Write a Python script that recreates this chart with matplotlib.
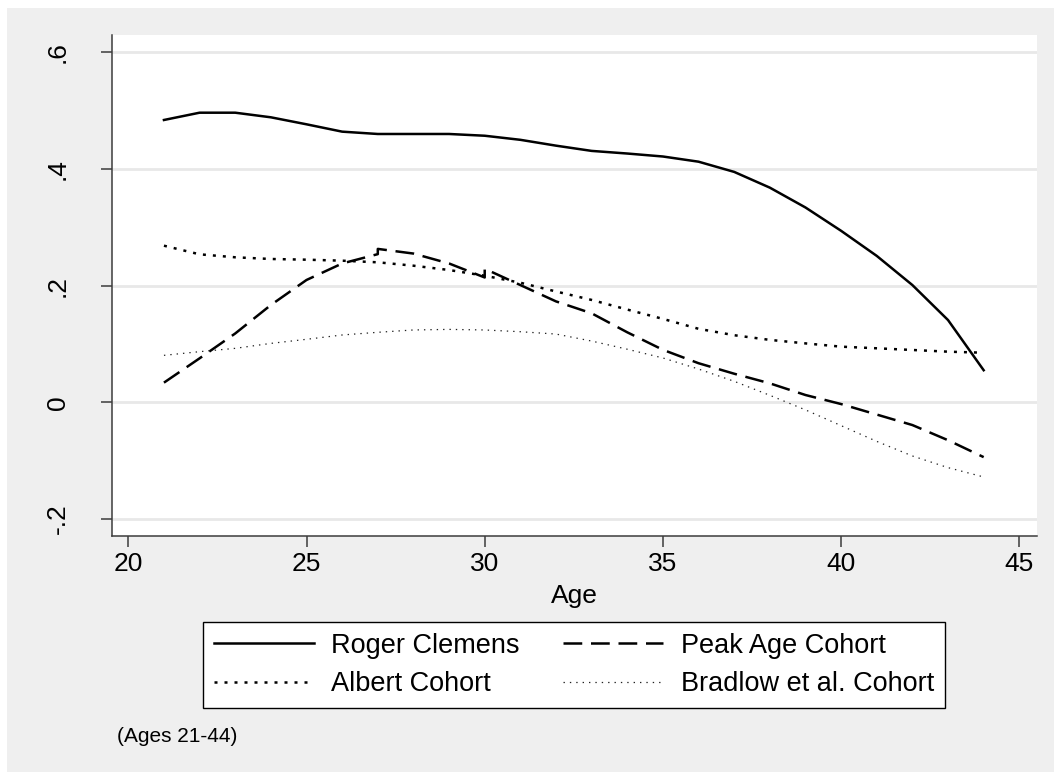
import numpy as np
import matplotlib
matplotlib.use("Agg")
import matplotlib.pyplot as plt
from matplotlib.patches import Rectangle

plt.rcParams['font.family'] = ['Liberation Sans', 'DejaVu Sans']

ages = list(range(21, 45))

clemens = [0.484, 0.4965, 0.4965, 0.4886, 0.4766, 0.464, 0.46, 0.46, 0.46, 0.457,
           0.45, 0.44, 0.431, 0.4265, 0.4214, 0.4125, 0.395, 0.368, 0.334, 0.294,
           0.251, 0.201, 0.141, 0.055]

albert = [0.2685, 0.2537, 0.2486, 0.2457, 0.2445, 0.2428, 0.24, 0.2342, 0.2268, 0.217,
          0.205, 0.19, 0.1755, 0.159, 0.143, 0.126, 0.115, 0.107, 0.101, 0.0954,
          0.0926, 0.0897, 0.0868, 0.085]

# peak age cohort has doubled points at 27 and 30
peak_ages = [21, 22, 23, 24, 25, 26, 27, 27, 28, 29, 30, 30, 31, 32, 33, 34, 35, 36,
             37, 38, 39, 40, 41, 42, 43, 44]
peak = [0.0337, 0.0754, 0.118, 0.1668, 0.2097, 0.238, 0.254, 0.263, 0.255, 0.238,
        0.214, 0.229, 0.201, 0.173, 0.1526, 0.12, 0.09, 0.067, 0.049, 0.0325,
        0.0125, -0.003, -0.021, -0.039, -0.065, -0.094]

bradlow = [0.0805, 0.0868, 0.0925, 0.101, 0.108, 0.1154, 0.12, 0.124, 0.125, 0.124,
           0.121, 0.117, 0.105, 0.091, 0.076, 0.057, 0.036, 0.012, -0.013, -0.04,
           -0.067, -0.092, -0.112, -0.128]

xticks = [20, 25, 30, 35, 40, 45]
yticks = [-0.2, 0, 0.2, 0.4, 0.6]
ylabels = ['-.2', '0', '.2', '.4', '.6']

W, H = 1054, 772
fig = plt.figure(figsize=(W / 100, H / 100), dpi=100, facecolor='white')
fig.patches.append(Rectangle((7 / W, 0), 1, 1 - 8 / H, transform=fig.transFigure,
                             facecolor='#efefef', edgecolor='none', zorder=-10))

ax = fig.add_axes([111.7 / W, 1 - 535.7 / H, 925 / W, 500.7 / H])
ax.set_facecolor('white')

l_rc, = ax.plot(ages, clemens, color='black', lw=1.8)
l_pk, = ax.plot(peak_ages, peak, color='black', lw=1.8, dashes=(7.5, 3.5))
l_al, = ax.plot(ages, albert, color='black', lw=1.8, dashes=(1.2, 2.8))
l_br, = ax.plot(ages, bradlow, color='#222222', lw=0.9, dashes=(1.1, 4))

ax.set_xlim(19.534, 45.488)
ax.set_ylim(-0.2287, 0.6297)
ax.set_xticks(xticks)
ax.set_yticks(yticks)
ax.set_yticklabels(ylabels, rotation=90, va='center')

ax.grid(axis='y', color='#e8e8e8', lw=2)
ax.set_axisbelow(True)
for s in ['top', 'right']:
    ax.spines[s].set_visible(False)
for s in ['left', 'bottom']:
    ax.spines[s].set_color('#3c3c3c')
    ax.spines[s].set_linewidth(1.1)
ax.tick_params(axis='both', length=8, width=1.1, color='#3c3c3c', labelsize=19)
ax.tick_params(axis='x', pad=4)
ax.tick_params(axis='y', pad=22)

fig.text(574 / W, 1 - 596 / H, 'Age', ha='center', va='center', fontsize=19)
fig.text(117 / W, 1 - 737 / H, '(Ages 21-44)', ha='left', va='center', fontsize=15)

# matplotlib fills legend columns first
handles = [l_rc, l_al, l_pk, l_br]
labels = ['Roger Clemens', 'Albert Cohort', 'Peak Age Cohort', 'Bradlow et al. Cohort']
leg = fig.legend(handles, labels, ncol=2,
                 loc='center', bbox_to_anchor=(573.9 / W, 1 - 665 / H),
                 fontsize=19.5, frameon=True, fancybox=False, edgecolor='black',
                 facecolor='white', framealpha=1, handlelength=3.7,
                 handletextpad=0.65, columnspacing=1.6, labelspacing=0.45,
                 borderpad=0.4)
leg.get_frame().set_linewidth(1.0)

fig.savefig('out.png', dpi=100, facecolor=fig.get_facecolor())
